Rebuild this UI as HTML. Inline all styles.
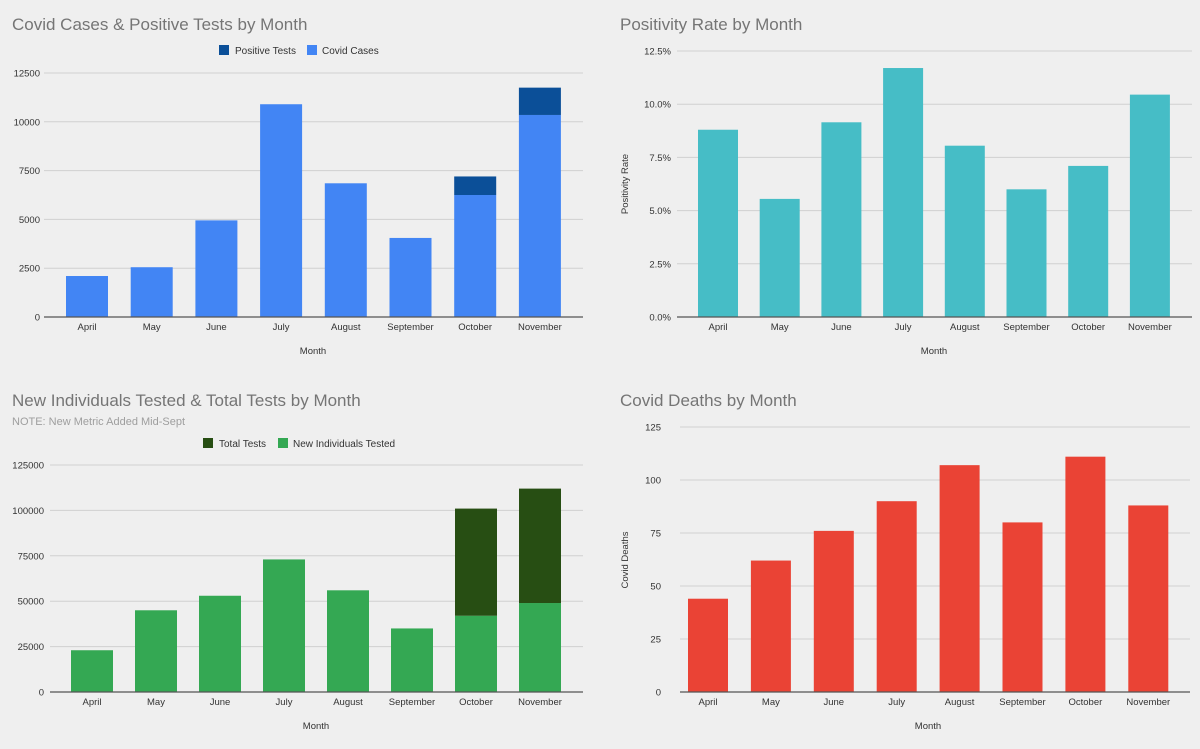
<!DOCTYPE html>
<html><head><meta charset="utf-8"><style>
body{margin:0;background:#efefef;font-family:"Liberation Sans",sans-serif;}
svg{display:block}
</style></head><body>
<svg id="s" width="1200" height="749" viewBox="0 0 1200 749">
<rect width="1200" height="749" fill="#efefef"/>
<text x="12" y="30" font-size="17" fill="#757575">Covid Cases &amp; Positive Tests by Month</text>
<text x="620" y="30" font-size="17" fill="#757575">Positivity Rate by Month</text>
<text x="12" y="406" font-size="17" fill="#757575">New Individuals Tested &amp; Total Tests by Month</text>
<text x="12" y="425" font-size="11" fill="#9e9e9e">NOTE: New Metric Added Mid-Sept</text>
<text x="620" y="406" font-size="17" fill="#757575">Covid Deaths by Month</text>
<rect x="219" y="45" width="10" height="10" fill="#0b4f98"/>
<text x="235" y="54" font-size="10" fill="#333">Positive Tests</text>
<rect x="307" y="45" width="10" height="10" fill="#4285f4"/>
<text x="322" y="54" font-size="10" fill="#333">Covid Cases</text>
<rect x="203" y="438" width="10" height="10" fill="#274e13"/>
<text x="219" y="447" font-size="10" fill="#333">Total Tests</text>
<rect x="278" y="438" width="10" height="10" fill="#34a853"/>
<text x="293" y="447" font-size="10" fill="#333">New Individuals Tested</text>
<text transform="translate(628,184) rotate(-90)" text-anchor="middle" font-size="9.5" fill="#333">Positivity Rate</text>
<text transform="translate(628,560) rotate(-90)" text-anchor="middle" font-size="9.5" fill="#333">Covid Deaths</text>
</svg>
<script>
const months = ["April","May","June","July","August","September","October","November"];
const covidCases = [2100,2550,4950,10900,6850,4050,6250,10350];
const positiveTests = [0,0,0,0,0,0,950,1400];
const casesTicks = [0,2500,5000,7500,10000,12500];
const positivityRate = [8.8,5.55,9.15,11.7,8.05,6.0,7.1,10.45];
const positivityTicks = [0,2.5,5,7.5,10,12.5];
const positivityTickLabels = ["0.0%","2.5%","5.0%","7.5%","10.0%","12.5%"];
const newIndividuals = [23000,45000,53000,73000,56000,35000,42000,49000];
const extraTotalTests = [0,0,0,0,0,0,59000,63000];
const testsTicks = [0,25000,50000,75000,100000,125000];
const deaths = [44,62,76,90,107,80,111,88];
const deathsTicks = [0,25,50,75,100,125];

const NS="http://www.w3.org/2000/svg";
const svg=document.getElementById('s');
function mk(tag,attrs,parent){const e=document.createElementNS(NS,tag);for(const k in attrs)e.setAttribute(k,attrs[k]);(parent||svg).appendChild(e);return e;}

function chart(cfg){
  const g=mk('g',{});
  
  
  const y=v=>cfg.y0-(v/cfg.max)*(cfg.y0-cfg.y1);
  const cx=i=>cfg.c0+i*cfg.step;
  cfg.ticks.forEach((t,i)=>{
    const yy=y(t);
    if(t!==0){const l=mk('line',{x1:cfg.gx0,x2:cfg.gx1,y1:yy,y2:yy,stroke:'#d0d0d0','stroke-width':1},g);
      
      }
    const tx=mk('text',{x:cfg.lx,y:yy+3.5,'text-anchor':'end','font-size':9.5,fill:'#333'},g);
    tx.textContent=cfg.tickLabels?cfg.tickLabels[i]:String(t);
    
    
  });
  months.forEach((m,i)=>{
    let base=0;
    cfg.series.forEach(s=>{
      const v=s.vals[i]; if(v<=0)return;
      const r=mk('rect',{x:cx(i)-cfg.bw/2,y:y(base+v),width:cfg.bw,height:y(base)-y(base+v),fill:s.color},g);
      
      
      base+=v;
    });
    const t=mk('text',{x:cx(i),y:cfg.y0+13,'text-anchor':'middle','font-size':9.5,fill:'#333'},g);
    t.textContent=m;
    
    
  });
  const ax=mk('line',{x1:cfg.gx0,x2:cfg.gx1,y1:cfg.y0,y2:cfg.y0,stroke:'#555','stroke-width':1.3},g);
  
  
  const xt=mk('text',{x:cfg.xt,y:cfg.y0+37,'text-anchor':'middle','font-size':9.5,fill:'#333'},g);
  xt.textContent='Month';
  
  
}
chart({name:'cases-chart',y0:317,y1:73,max:12500,ticks:casesTicks,c0:87,step:64.7,bw:42,gx0:44,gx1:583,lx:40,xt:313,
  series:[{key:'covid-cases',vals:covidCases,color:'#4285f4'},{key:'positive-tests',vals:positiveTests,color:'#0b4f98'}]});
chart({name:'positivity-chart',y0:317,y1:51,max:12.5,ticks:positivityTicks,tickLabels:positivityTickLabels,c0:718,step:61.7,bw:40,gx0:677,gx1:1192,lx:671,xt:934,
  series:[{key:'positivity-rate',vals:positivityRate,color:'#46bdc6'}]});
chart({name:'tests-chart',y0:692,y1:465,max:125000,ticks:testsTicks,c0:92,step:64,bw:42,gx0:50,gx1:583,lx:44,xt:316,
  series:[{key:'new-individuals',vals:newIndividuals,color:'#34a853'},{key:'total-tests',vals:extraTotalTests,color:'#274e13'}]});
chart({name:'deaths-chart',y0:692,y1:427,max:125,ticks:deathsTicks,c0:708,step:62.9,bw:40,gx0:680,gx1:1190,lx:661,xt:928,
  series:[{key:'deaths',vals:deaths,color:'#ea4335'}]});
</script>
</body></html>
